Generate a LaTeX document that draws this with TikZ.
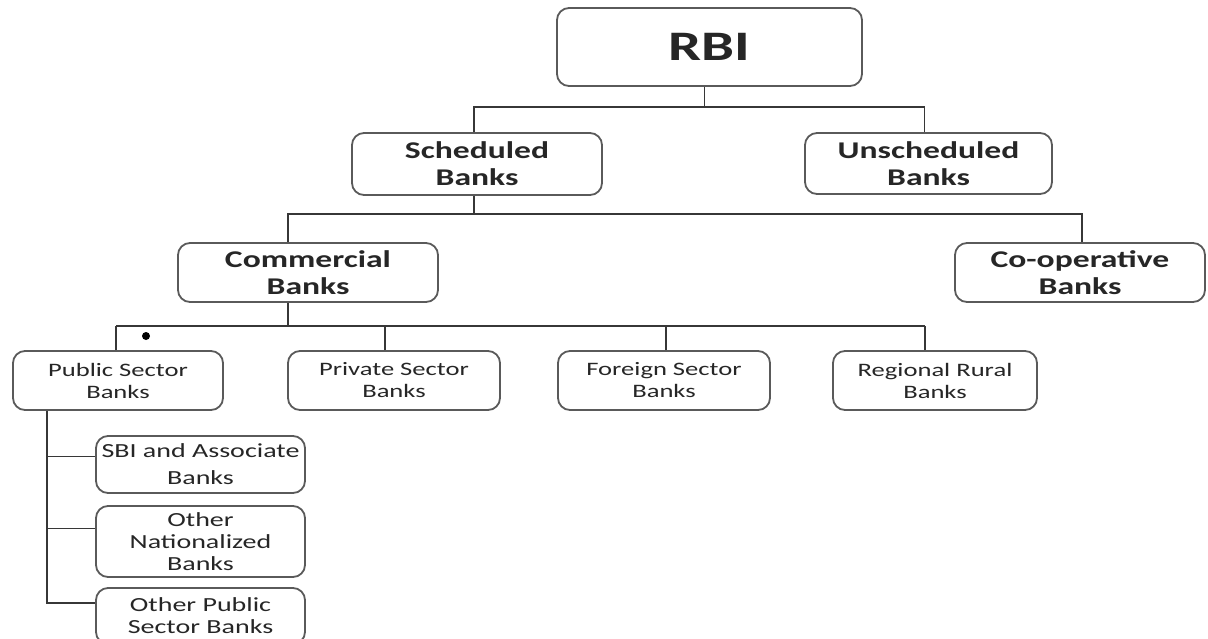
\documentclass[tikz,border=0pt]{standalone}
\usepackage{fontspec}
\setmainfont[FakeStretch=1.4]{Carlito}
\definecolor{Boxgray}{RGB}{90,90,90}
\definecolor{Linegray}{RGB}{55,55,55}

\begin{document}
\begin{tikzpicture}[x=1pt,y=-1pt,
        bank/.style={draw=Boxgray, line width=1.8pt, rounded corners=12pt, align=center, inner sep=0pt, text=black!85},
        topbank/.style={bank, font=\bfseries\fontsize{24}{27}\selectfont},
        lowbank/.style={bank, font=\fontsize{19}{22}\selectfont, minimum height=59pt},
        subbank/.style={bank, font=\fontsize{20}{22}\selectfont, minimum width=209pt},
        link/.style={Linegray, line width=1.9pt}]
    \useasboundingbox (0,0) rectangle (1208,638);

    % top levels
    \node[bank, minimum width=305pt, minimum height=78pt, font=\bfseries\fontsize{42}{48}\selectfont] (rbi) at (709.5,47) {RBI};
    \node[topbank, minimum width=250pt, minimum height=62pt] (sched) at (477,164) {Scheduled\\Banks};
    \node[topbank, minimum width=247pt, minimum height=61pt] (unsched) at (928.5,163.5) {Unscheduled\\Banks};
    \node[topbank, minimum width=260pt, minimum height=59pt] (comm) at (308,272.5) {Commercial\\Banks};
    \node[topbank, minimum width=250pt, minimum height=59pt] (coop) at (1080,272.5) {Co-operative\\Banks};

    % sectors
    \node[lowbank, minimum width=210pt] (pub) at (118,380.5) {Public Sector\\Banks};
    \node[lowbank, minimum width=212pt] (priv) at (394,380.5) {Private Sector\\Banks};
    \node[lowbank, minimum width=212pt] (fore) at (664,380.5) {Foreign Sector\\Banks};
    \node[lowbank, minimum width=204pt] (reg) at (935,380.5) {Regional Rural\\Banks};

    % public sector groups
    \node[subbank, minimum height=57pt] (sbi) at (200.5,464.5) {SBI and Associate\\[5pt]Banks};
    \node[subbank, minimum height=71pt] (onat) at (200.5,541.5) {Other\\Nationalized\\Banks};
    \node[subbank, minimum height=56pt] (opub) at (200.5,616) {Other Public\\Sector Banks};

    \coordinate (bar1) at (0,107);
    \coordinate (bar2) at (0,214);
    \coordinate (bar3) at (0,326);

    \draw[link] ([xshift=-5pt]rbi.south) -- ([xshift=-5pt]rbi.south |- bar1);
    \draw[link] ([xshift=-3pt]sched.north) |- ([xshift=-4pt]bar1 -| unsched.north) -- ([xshift=-4pt]unsched.north);
    \draw[link] ([xshift=-3pt]sched.south) -- ([xshift=-3pt]sched.south |- bar2);
    \draw[link] ([xshift=-20pt]comm.north) |- ([xshift=2pt]bar2 -| coop.north) -- ([xshift=2pt]coop.north);
    \draw[link] ([xshift=-20pt]comm.south) -- ([xshift=-20pt]comm.south |- bar3);
    \draw[link] ([xshift=-2pt]pub.north |- bar3) -- ([xshift=-10pt]reg.north |- bar3);
    \foreach \n/\s in {pub/-2, priv/-9, fore/2, reg/-10}
        \draw[link] ([xshift=\s pt]\n.north) -- ([xshift=\s pt]\n.north |- bar3);
    \fill (146,336) circle (4pt);

    \coordinate (trunk) at ([xshift=-71pt]pub.south);
    \draw[link] (trunk) |- ([yshift=13pt]opub.west);
    \foreach \n/\s in {sbi/8, onat/13}
        \draw[link] ([yshift=\s pt]\n.west -| trunk) -- ([yshift=\s pt]\n.west);
\end{tikzpicture}
\end{document}
